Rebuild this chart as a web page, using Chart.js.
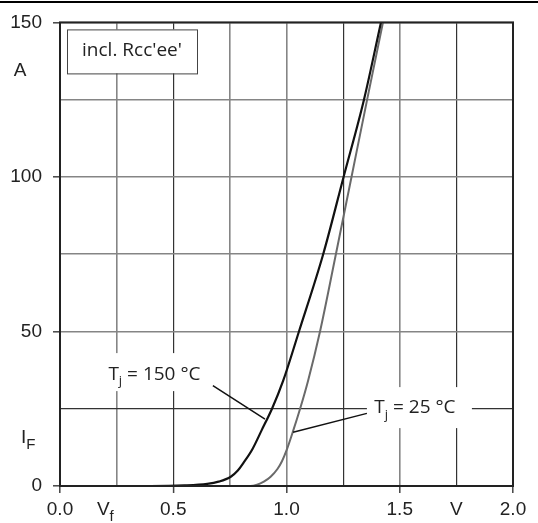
<!DOCTYPE html>
<html>
<head>
<meta charset="utf-8">
<script src="https://cdn.jsdelivr.net/npm/chart.js@4.4.1/dist/chart.umd.min.js"></script>
<style>
  html, body { margin: 0; padding: 0; background: #fff; }
  #wrap { width: 538px; height: 523px; position: relative; }
</style>
</head>
<body>
<div id="wrap"><canvas id="chart"></canvas></div>
<script>
/* ── forward characteristic ── */

// Tj = 150 °C
const vf150 = [0, 0.40, 0.55, 0.65, 0.70, 0.754, 0.785, 0.81, 0.85, 0.89, 0.936, 0.985, 1.055, 1.162, 1.252, 1.342, 1.417];
const if150 = [0, 0.0, 0.2, 0.7, 1.4, 3.0, 5.0, 7.5, 12.0, 18.0, 25.0, 34.0, 50.0, 75.0, 100.0, 125.0, 150.0];

// Tj = 25 °C
const vf25 = [0, 0.80, 0.84, 0.87, 0.90, 0.93, 0.96, 0.98, 1.00, 1.03, 1.06, 1.095, 1.148, 1.218, 1.287, 1.356, 1.426];
const if25 = [0, 0.0, 0.0, 0.4, 1.4, 3.0, 5.5, 8.0, 11.5, 18.0, 25.0, 34.0, 50.0, 75.0, 100.0, 125.0, 150.0];

const X_MAJOR = [0, 0.5, 1.0, 1.5, 2.0];
const Y_MAJOR = [0, 50, 100, 150];
const X_DARK = [0.5, 1.25, 1.75];
const Y_DARK = [25];

const TICK_FONT = { family: '"Liberation Sans", Arial, sans-serif', size: 19 };
const NOTE_FONT = '19px "Open Sans", sans-serif';
const NOTE_SUB = '13px "Open Sans", sans-serif';
const INK = '#222';

const toPts = (xs, ys) => xs.map((x, i) => ({ x, y: ys[i] }));
const isIn = (v, list) => list.some(d => Math.abs(d - v) < 1e-6);

/* ──────── ANNOTATIONS ──────── */

// text with a subscript part: [main, sub, rest]
function subText(ctx, parts, cx, cy, font, subFont, align) {
  ctx.font = font;
  const w1 = ctx.measureText(parts[0]).width;
  const w3 = ctx.measureText(parts[2] || '').width;
  ctx.font = subFont;
  const w2 = ctx.measureText(parts[1]).width;
  const total = w1 + w2 + w3;
  let x = align === 'left' ? cx : cx - total / 2;
  ctx.textBaseline = 'middle';
  ctx.textAlign = 'left';
  ctx.font = font;
  ctx.fillText(parts[0], x, cy);
  x += w1;
  ctx.font = subFont;
  ctx.fillText(parts[1], x, cy + 7);
  x += w2;
  ctx.font = font;
  if (parts[2]) ctx.fillText(parts[2], x, cy);
}

const notes = {
  id: 'notes',
  afterDatasetsDraw(chart) {
    const { ctx, chartArea: a, scales: { x, y } } = chart;
    ctx.save();

    // white patches behind curve labels
    ctx.fillStyle = '#fff';
    ctx.fillRect(x.getPixelForValue(0.19), y.getPixelForValue(43), 104, 38);
    ctx.fillRect(x.getPixelForValue(1.355), y.getPixelForValue(32), 105, 41);

    ctx.fillStyle = INK;
    subText(ctx, ['T', 'j', ' = 150 °C'], x.getPixelForValue(0.417), y.getPixelForValue(36), NOTE_FONT, NOTE_SUB);
    subText(ctx, ['T', 'j', ' = 25 °C'], x.getPixelForValue(1.567), y.getPixelForValue(25.3), NOTE_FONT, NOTE_SUB);

    // leader lines
    ctx.strokeStyle = '#111';
    ctx.lineWidth = 1.5;
    ctx.beginPath();
    ctx.moveTo(x.getPixelForValue(0.675), y.getPixelForValue(32.5));
    ctx.lineTo(x.getPixelForValue(0.905), y.getPixelForValue(21.6));
    ctx.moveTo(x.getPixelForValue(1.355), y.getPixelForValue(23.5));
    ctx.lineTo(x.getPixelForValue(1.029), y.getPixelForValue(17.4));
    ctx.stroke();

    // "incl. Rcc'ee'" box
    ctx.fillStyle = '#fff';
    ctx.fillRect(a.left + 7, a.top + 7, 130, 44);
    ctx.strokeStyle = '#444';
    ctx.lineWidth = 1;
    ctx.strokeRect(a.left + 7.5, a.top + 7.5, 130, 44);
    ctx.fillStyle = INK;
    ctx.font = NOTE_FONT;
    ctx.textAlign = 'center';
    ctx.textBaseline = 'middle';
    ctx.fillText("incl. Rcc'ee'", a.left + 72, a.top + 28);

    // frame
    ctx.strokeStyle = INK;
    ctx.lineWidth = 2;
    ctx.strokeRect(a.left, a.top, a.right - a.left, a.bottom - a.top);

    // unit / symbol labels
    const f = TICK_FONT.size + 'px ' + TICK_FONT.family;
    const fs = '15px ' + TICK_FONT.family;
    ctx.textAlign = 'center';
    ctx.font = f;
    ctx.fillText('A', 20, y.getPixelForValue(134.5));
    subText(ctx, ['I', 'F', ''], 21, y.getPixelForValue(15.5), f, fs, 'left');
    subText(ctx, ['V', 'f', ''], x.getPixelForValue(0.20), 510, f, fs);
    ctx.textAlign = 'center';
    ctx.font = f;
    ctx.fillText('V', x.getPixelForValue(1.75), 510);

    // rule across the top of the page
    ctx.fillStyle = '#000';
    ctx.fillRect(0, 1, chart.width, 2);
    ctx.restore();
  }
};

/* ──────── CHART ──────── */

new Chart(document.getElementById('chart'), {
  type: 'line',
  data: {
    datasets: [
      {
        label: 'Tj = 150 °C',
        data: toPts(vf150, if150),
        borderColor: '#111',
        borderWidth: 2.2,
        cubicInterpolationMode: 'monotone',
        pointRadius: 0,
      },
      {
        label: 'Tj = 25 °C',
        data: toPts(vf25, if25),
        borderColor: '#6a6a6a',
        borderWidth: 2,
        cubicInterpolationMode: 'monotone',
        pointRadius: 0,
      }
    ]
  },
  options: {
    responsive: true,
    maintainAspectRatio: false,
    animation: false,
    layout: { padding: { left: 0, right: 25, top: 21, bottom: 0 } },
    plugins: { legend: { display: false }, tooltip: { enabled: false } },
    scales: {
      x: {
        type: 'linear',
        min: 0, max: 2,
        afterFit: s => { s.height = 37; },
        ticks: {
          stepSize: 0.25,
          autoSkip: false,
          maxRotation: 0,
          padding: 5,
          color: INK,
          font: TICK_FONT,
          callback: v => isIn(v, X_MAJOR) ? v.toFixed(1) : ''
        },
        grid: {
          tickLength: 7,
          color: c => isIn(c.tick.value, X_DARK) ? '#333' : '#858585',
          lineWidth: c => isIn(c.tick.value, X_DARK) ? 1.2 : 1.6,
          tickColor: c => isIn(c.tick.value, X_MAJOR) ? '#444' : 'rgba(0,0,0,0)',
          tickWidth: 1.5
        },
        border: { display: false }
      },
      y: {
        type: 'linear',
        min: 0, max: 150,
        afterFit: s => { s.width = 60; },
        ticks: {
          stepSize: 25,
          padding: 11,
          color: INK,
          font: TICK_FONT,
          callback: v => isIn(v, Y_MAJOR) ? String(v) : ''
        },
        grid: {
          tickLength: 7,
          color: c => isIn(c.tick.value, Y_DARK) ? '#333' : '#858585',
          lineWidth: c => isIn(c.tick.value, Y_DARK) ? 1.2 : 1.6,
          tickColor: c => isIn(c.tick.value, Y_MAJOR) ? '#444' : 'rgba(0,0,0,0)',
          tickWidth: 1.5
        },
        border: { display: false }
      }
    }
  },
  plugins: [notes]
});
</script>
</body>
</html>
